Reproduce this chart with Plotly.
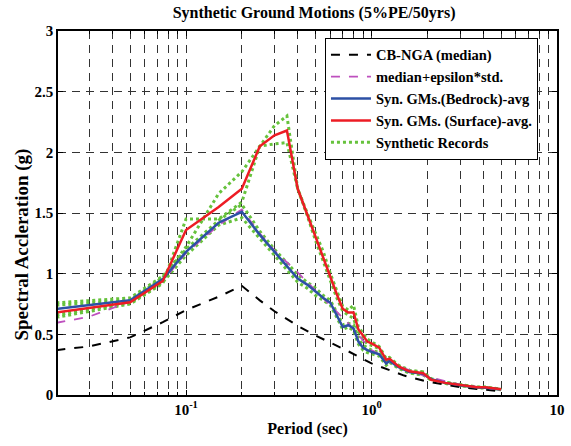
import plotly.graph_objects as go

# ---- data ----
T_cb = [0.02, 0.03, 0.05, 0.075, 0.1, 0.15, 0.2, 0.25, 0.3, 0.4, 0.5, 0.75, 1.0, 1.5, 2.0, 3.0, 4.0, 5.0]
cb_median = [0.37, 0.40, 0.475, 0.60, 0.70, 0.81, 0.90, 0.78, 0.69, 0.57, 0.49, 0.36, 0.26, 0.16, 0.11, 0.065, 0.045, 0.03]
cb_eps = [0.595, 0.645, 0.77, 0.94, 1.17, 1.40, 1.53, 1.33, 1.19, 1.01, 0.86, 0.59, 0.37, 0.22, 0.15, 0.085, 0.06, 0.045]

T_syn = [0.02, 0.05, 0.075, 0.1, 0.15, 0.2, 0.25, 0.3, 0.35, 0.4, 0.45, 0.5, 0.55, 0.6, 0.65, 0.7,
         0.75, 0.8, 0.85, 0.9, 0.95, 1.0, 1.1, 1.2, 1.25, 1.4, 1.6, 1.9, 2.1, 2.5, 3.0, 3.7, 4.1, 5.0]
bedrock_avg = [0.71, 0.78, 0.955, 1.18, 1.42, 1.51, 1.32, 1.18, 1.06, 0.96, 0.91, 0.85, 0.80, 0.76, 0.66, 0.56,
               0.575, 0.55, 0.44, 0.39, 0.37, 0.355, 0.335, 0.26, 0.28, 0.23, 0.19, 0.175, 0.13, 0.10, 0.08, 0.062, 0.06, 0.045]
surface_avg = [0.68, 0.765, 0.94, 1.36, 1.55, 1.70, 2.05, 2.14, 2.18, 1.70, 1.49, 1.30, 1.14, 0.97, 0.83, 0.71,
               0.68, 0.68, 0.54, 0.49, 0.44, 0.425, 0.39, 0.29, 0.30, 0.235, 0.195, 0.18, 0.125, 0.10, 0.082, 0.063, 0.063, 0.047]

rec_s1 = [0.74, 0.78, 0.97, 1.22, 1.66, 1.84, 2.05, 2.22, 2.30, 1.70, 1.50, 1.33, 1.18, 1.00, 0.86, 0.73,
          0.70, 0.74, 0.56, 0.51, 0.46, 0.44, 0.40, 0.30, 0.31, 0.245, 0.205, 0.19, 0.13, 0.105, 0.085, 0.066, 0.065, 0.048]
rec_s2 = [0.64, 0.75, 0.92, 1.45, 1.45, 1.59, 2.05, 2.07, 2.08, 1.70, 1.48, 1.27, 1.10, 0.94, 0.80, 0.69,
          0.66, 0.63, 0.52, 0.47, 0.42, 0.41, 0.38, 0.28, 0.29, 0.225, 0.185, 0.17, 0.12, 0.095, 0.079, 0.06, 0.061, 0.046]
rec_b1 = [0.76, 0.80, 0.98, 1.20, 1.44, 1.57, 1.35, 1.20, 1.09, 0.99, 0.93, 0.88, 0.82, 0.78, 0.68, 0.58,
          0.59, 0.58, 0.47, 0.41, 0.39, 0.37, 0.35, 0.275, 0.29, 0.24, 0.20, 0.185, 0.135, 0.105, 0.083, 0.065, 0.063, 0.047]
rec_b2 = [0.66, 0.76, 0.93, 1.15, 1.40, 1.46, 1.29, 1.15, 1.03, 0.93, 0.88, 0.82, 0.78, 0.74, 0.64, 0.54,
          0.56, 0.53, 0.42, 0.37, 0.35, 0.34, 0.32, 0.245, 0.27, 0.22, 0.18, 0.165, 0.125, 0.095, 0.077, 0.059, 0.057, 0.043]
records = [rec_s1, rec_s2, rec_b1, rec_b2]

x_tickvals = [0.1, 1, 10]
x_ticktext = ["10<sup>-1</sup>", "10<sup>0</sup>", "10"]
y_tickvals = [0, 0.5, 1, 1.5, 2, 2.5, 3]
y_ticktext = ["0", "0.5", "1", "1.5", "2", "2.5", "3"]

FONT = "Liberation Serif"
GREEN = "rgb(102,194,60)"

fig = go.Figure()

for i, rec in enumerate(records):
    fig.add_trace(go.Scatter(x=T_syn, y=rec, mode="lines",
                             line=dict(color=GREEN, width=3, dash="dot"),
                             name="Synthetic Records", showlegend=(i == 0), legendrank=5))

fig.add_trace(go.Scatter(x=T_cb, y=cb_median, mode="lines",
                         line=dict(color="black", width=2, dash="dash"),
                         name="CB-NGA (median)", legendrank=1))
fig.add_trace(go.Scatter(x=T_cb, y=cb_eps, mode="lines",
                         line=dict(color="rgb(190,80,190)", width=1.8, dash="dash"),
                         name="median+epsilon*std.", legendrank=2))
fig.add_trace(go.Scatter(x=T_syn, y=bedrock_avg, mode="lines",
                         line=dict(color="rgb(45,80,165)", width=2.5),
                         name="Syn. GMs.(Bedrock)-avg", legendrank=3))
fig.add_trace(go.Scatter(x=T_syn, y=surface_avg, mode="lines",
                         line=dict(color="rgb(237,28,36)", width=2.5),
                         name="Syn. GMs. (Surface)-avg.", legendrank=4))

GRID = "#333333"
fig.update_layout(
    width=571, height=446,
    margin=dict(l=58, r=6, t=31, b=51),
    paper_bgcolor="white", plot_bgcolor="white",
    font=dict(family=FONT, size=15, color="black"),
    title=dict(text="<b>Synthetic Ground Motions (5%PE/50yrs)</b>",
               x=0.55, xanchor="center", y=0.972, yanchor="middle",
               font=dict(family=FONT, size=16)),
    legend=dict(x=0.535, y=0.981, xanchor="left", yanchor="top",
                bgcolor="white", bordercolor="black", borderwidth=1,
                font=dict(family=FONT, size=14.5, weight="bold"),
                tracegroupgap=0, itemwidth=40),
    xaxis=dict(type="log", range=[-1.69, 1.0],
               tickvals=x_tickvals, ticktext=x_ticktext,
               tickfont=dict(family=FONT, size=15, weight="bold"),
               ticks="inside", ticklen=5, tickcolor="black",
               showline=True, linecolor="black", linewidth=1.5, mirror="ticks",
               showgrid=True, gridcolor=GRID, gridwidth=1, griddash="8px,6px",
               minor=dict(dtick="D1", showgrid=True, gridcolor=GRID, gridwidth=1,
                          griddash="8px,6px", ticks="inside", ticklen=3, tickcolor="black"),
               title=dict(text="<b>Period (sec)</b>", standoff=6,
                          font=dict(family=FONT, size=16)),
               zeroline=False),
    yaxis=dict(range=[0, 3],
               tickvals=y_tickvals, ticktext=y_ticktext,
               tickfont=dict(family=FONT, size=15, weight="bold"),
               ticks="inside", ticklen=5, tickcolor="black",
               showline=True, linecolor="black", linewidth=1.5, mirror="ticks",
               showgrid=True, gridcolor=GRID, gridwidth=1, griddash="8px,6px",
               zeroline=False),
    annotations=[dict(text="<b>Spectral Accleration (g)</b>", textangle=-90,
                      xref="paper", yref="paper", x=-0.073, y=0.412,
                      xanchor="center", yanchor="middle", showarrow=False,
                      font=dict(family=FONT, size=19))],
)

fig.write_html("out.html")
